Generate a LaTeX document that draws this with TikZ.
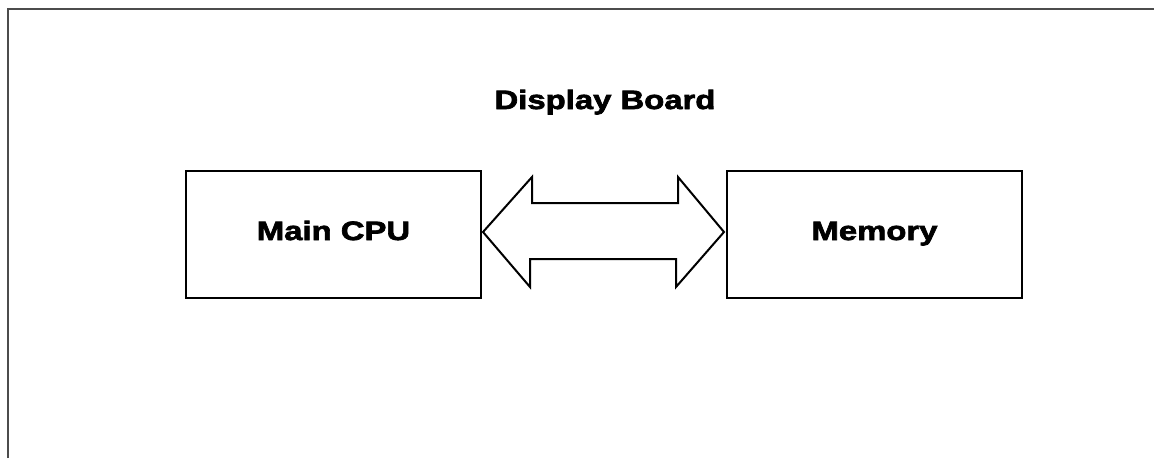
\documentclass[tikz,border=0pt]{standalone}
\usepackage{fontspec}
\newfontfamily\blk{Liberation Sans}[UprightFont={* Bold},FakeStretch=1.24,FakeBold=2.6]
\usetikzlibrary{calc}
\begin{document}
\begin{tikzpicture}[x=1pt,y=-1pt,
  txt/.style={font=\blk\fontsize{26.5}{30}\selectfont},
  box/.style={txt,draw=black,line width=2pt,minimum width=295pt,minimum height=127pt,inner sep=0pt,text height=19pt,text depth=8pt},
  lbl/.style={txt,inner sep=0pt,anchor=base},
  frame/.style={draw=black!70,line width=2pt}]
\useasboundingbox (0,0) rectangle (1154,458);
\draw[frame] (7.5,458) -- (7.5,8.5) -- (1154,8.5);
\node[lbl] (title) at (605,109) {Display Board};
\node[box] (cpu) at (333.5,234.5) {Main CPU};
\node[box] (mem) at (874.5,234.5) {Memory};
\draw[line width=2pt,line join=miter]
  ($(cpu.east)+(1,-2.5)$) -- ++(49,-55) -- ++(0,26) -- ++(146,0) -- ++(0,-26)
  -- ($(mem.west)+(-2,-2.5)$) -- ++(-48,55) -- ++(0,-28) -- ++(-146,0) -- ++(0,28) -- cycle;
\end{tikzpicture}
\end{document}
